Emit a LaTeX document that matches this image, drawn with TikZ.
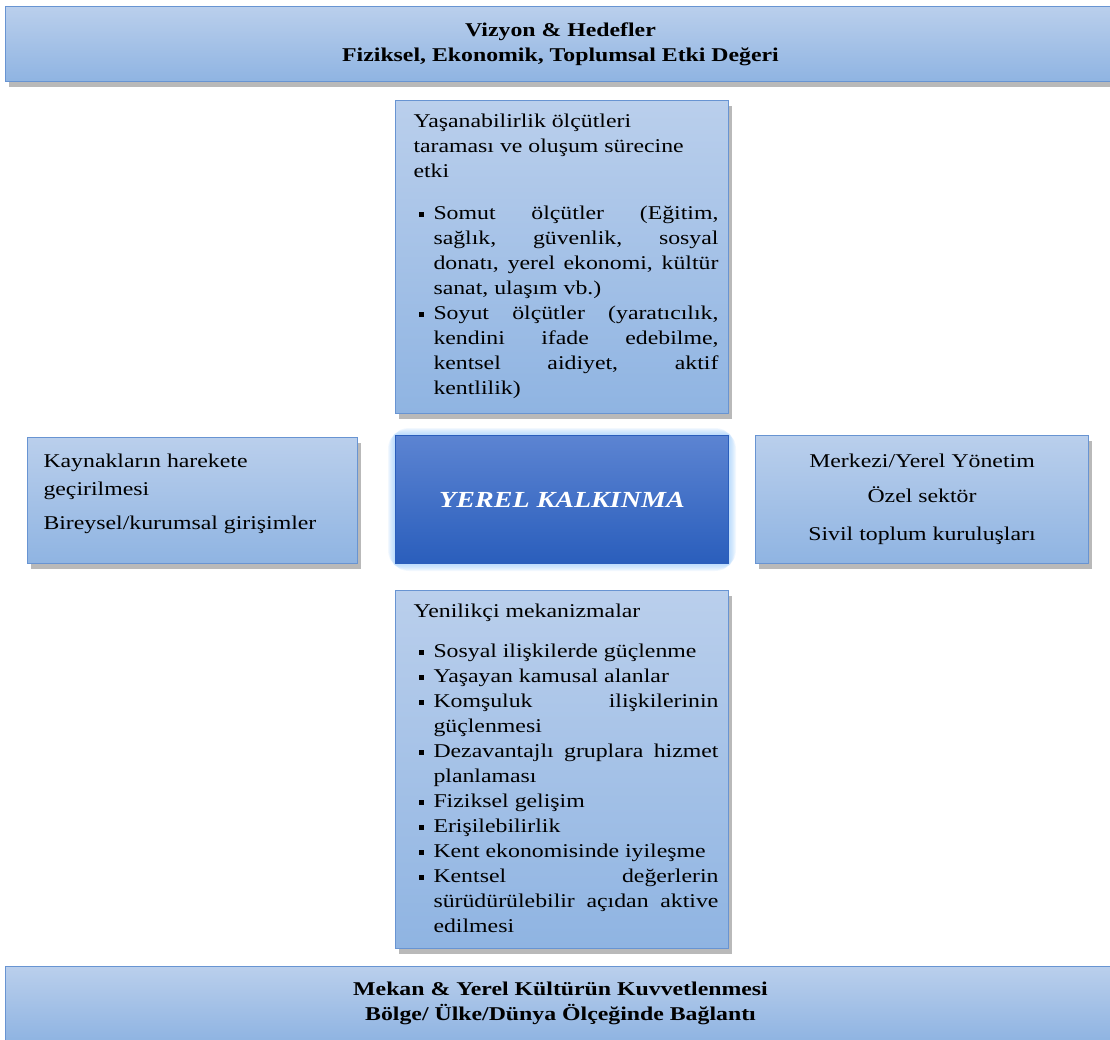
\documentclass[tikz,border=0pt]{standalone}
\usepackage{fontspec}
\setmainfont{Liberation Serif}[FakeStretch=1.22]
\usetikzlibrary{shadows}
\usetikzlibrary{backgrounds}

\definecolor{paneltop}{RGB}{186,207,236}
\definecolor{panelbot}{RGB}{143,180,226}
\definecolor{panelline}{RGB}{104,148,210}
\definecolor{coretop}{RGB}{92,132,210}
\definecolor{corebot}{RGB}{42,94,188}
\definecolor{glowblue}{RGB}{150,200,250}

\newcommand{\panelfont}{\fontsize{19.5}{25}\selectfont}
\newcommand{\bitem}{\par\hangindent=20pt\hangafter=1\noindent
  \makebox[20pt][l]{\hspace{5pt}\raisebox{2.5pt}{\rule{5pt}{5pt}}}}

\begin{document}
\begin{tikzpicture}
[x=1pt, y=-1pt,
panel/.style ={rectangle, draw=panelline, line width=1pt,
top color=paneltop, bottom color=panelbot, inner sep=0pt,
font=\panelfont,
drop shadow={shadow xshift=3pt, shadow yshift=-5pt, fill=black!50, opacity=.55}},
bar/.style ={panel, font=\panelfont\bfseries, align=center,
minimum width=1110, minimum height=75},
core/.style ={rectangle, draw=corebot, line width=1pt,
top color=coretop, bottom color=corebot, minimum width=333,
minimum height=128, text=white,
font=\fontsize{23}{25}\selectfont\bfseries\itshape}]

\useasboundingbox (0,0) rectangle (1110,1039);

% top
\node (vizyon) [bar, anchor=north west] at (5,6)
{Vizyon \& Hedefler\\Fiziksel, Ekonomik, Toplumsal Etki Değeri};

\node (olcut) [panel, anchor=north west] at (395,100)
{\parbox[c][313pt][t]{333pt}{\leftskip=18pt\rightskip=10pt
\parindent=0pt\parskip=0pt
\vspace*{13pt}Yaşanabilirlik ölçütleri\\taraması ve oluşum sürecine\\etki
\par\vspace{17pt}
\bitem Somut ölçütler (Eğitim,\linebreak sağlık, güvenlik, sosyal\linebreak
donatı, yerel ekonomi, kültür\linebreak sanat, ulaşım vb.)
\bitem Soyut ölçütler (yaratıcılık,\linebreak kendini ifade edebilme,\linebreak
kentsel aidiyet, aktif\linebreak kentlilik)\par}};

% middle row
\node (kaynak) [panel, anchor=north west] at (27,437)
{\parbox[c][126pt][t]{330pt}{\leftskip=16pt\parindent=0pt
\vspace*{16pt}Kaynakların harekete\\[3pt]geçirilmesi\\[9pt]Bireysel/kurumsal girişimler}};

\node (yerel) [core, anchor=north west] at (395,435) {YEREL KALKINMA};

\node (yonetim) [panel, anchor=north west, minimum width=333,
minimum height=128, align=center] at (755,435)
{Merkezi/Yerel Yönetim\\[10pt]Özel sektör\\[13pt]Sivil toplum kuruluşları};

% lower box
\node (yenilik) [panel, anchor=north west] at (395,590)
{\parbox[c][358pt][t]{333pt}{\leftskip=18pt\rightskip=10pt
\parindent=0pt\parskip=0pt
\vspace*{13pt}Yenilikçi mekanizmalar
\par\vspace{15pt}
\bitem Sosyal ilişkilerde güçlenme
\bitem Yaşayan kamusal alanlar
\bitem Komşuluk ilişkilerinin\linebreak güçlenmesi
\bitem Dezavantajlı gruplara hizmet\linebreak planlaması
\bitem Fiziksel gelişim
\bitem Erişilebilirlik
\bitem Kent ekonomisinde iyileşme
\bitem Kentsel değerlerin\linebreak sürüdürülebilir açıdan aktive\linebreak edilmesi\par}};

% bottom
\node (mekan) [bar, anchor=north west, minimum height=74] at (5,966)
{Mekan \& Yerel Kültürün Kuvvetlenmesi\\Bölge/ Ülke/Dünya Ölçeğinde Bağlantı};

% glow round the centre box
\begin{scope}[on background layer]
\foreach \g in {2,4,...,14}
\draw[glowblue, opacity=.12, line width=\g pt, rounded corners=\g pt]
(yerel.north west) rectangle (yerel.south east);
\end{scope}
\end{tikzpicture}
\end{document}
